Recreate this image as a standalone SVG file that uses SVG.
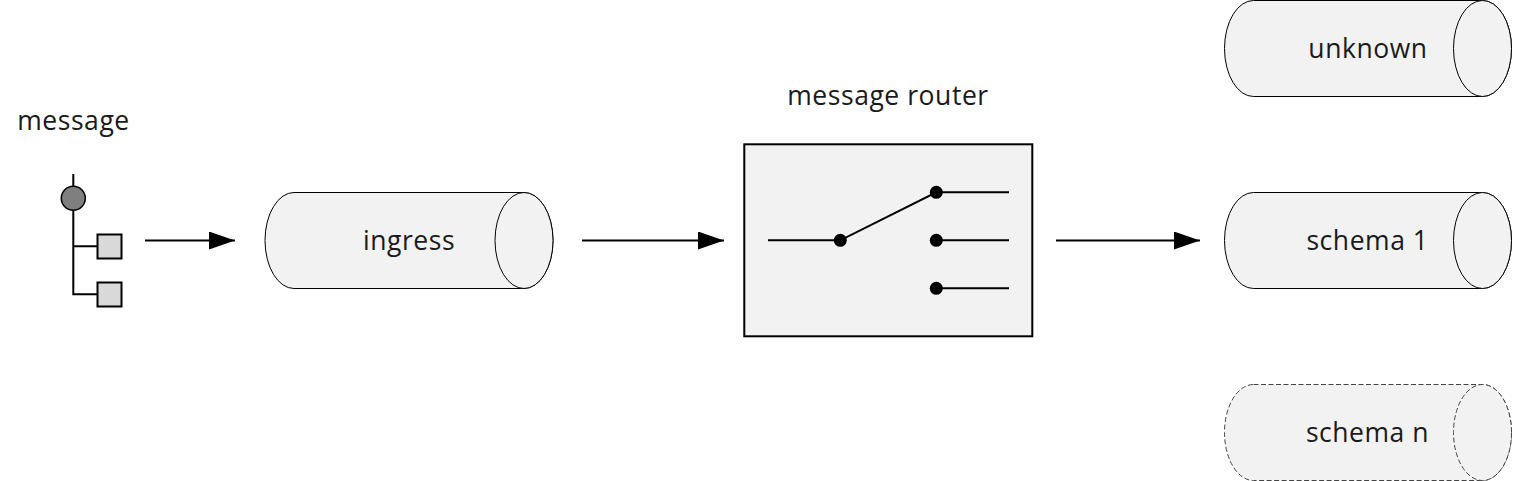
<svg xmlns="http://www.w3.org/2000/svg" width="1513" height="481" viewBox="0 0 1513 481">
<style>
.t{font-family:"Open Sans","Noto Sans",sans-serif;font-size:26.500px;letter-spacing:.55px;fill:#1a1a1a;text-anchor:middle}
.c{fill:#f2f2f2;stroke:#000;stroke-width:1}
.d{stroke-dasharray:5 2.500;stroke:#444}
.l{fill:none;stroke:#000;stroke-width:2}
.k{fill:#000}
.s{fill:#d9d9d9;stroke:#000;stroke-width:2}
</style>
<defs>
<marker id="a" markerWidth="26" markerHeight="18" refX="26" refY="9" orient="auto" markerUnits="userSpaceOnUse"><path d="M0 0L26 9L0 18Z" fill="#000"/></marker>
</defs>
<rect width="1513" height="481" fill="#fff"/>
<g id="message">
<text class="t" x="73.500" y="130">message</text>
<path class="l" d="M73.300 174V294.300H97M73.300 246.300H97"/>
<circle cx="73.300" cy="198.300" r="12" fill="#7f7f7f" stroke="#000" stroke-width="1.500"/>
<rect class="s" x="97.500" y="234.500" width="24" height="24"/>
<rect class="s" x="97.500" y="282.500" width="24" height="24"/>
</g>
<g id="ingress">
<path class="c" d="M294 192.500H524A29 48 0 0 1 524 288.500H294A29 48 0 0 1 294 192.500Z"/>
<ellipse class="c" cx="524" cy="240.500" rx="29" ry="48"/>
<text class="t" x="409" y="250">ingress</text>
</g>
<g id="router">
<text class="t" x="888" y="105">message router</text>
<rect x="744.300" y="144.300" width="288" height="192" fill="#f2f2f2" stroke="#000" stroke-width="2"/>
<path class="l" d="M768 240.300H840.300L936.300 192.300H1009M936.300 240.300H1009M936.300 288.300H1009"/>
<circle class="k" cx="840.300" cy="240.300" r="6.500"/>
<circle class="k" cx="936.300" cy="192.300" r="6.500"/>
<circle class="k" cx="936.300" cy="240.300" r="6.500"/>
<circle class="k" cx="936.300" cy="288.300" r="6.500"/>
</g>
<g id="unknown">
<path class="c" d="M1253.500 .5H1482.500A29 48 0 0 1 1482.500 96.500H1253.500A29 48 0 0 1 1253.500 .5Z"/>
<ellipse class="c" cx="1482.500" cy="48.500" rx="29" ry="48"/>
<text class="t" x="1368" y="58">unknown</text>
</g>
<g id="schema1">
<path class="c" d="M1253.500 192.500H1482.500A29 48 0 0 1 1482.500 288.500H1253.500A29 48 0 0 1 1253.500 192.500Z"/>
<ellipse class="c" cx="1482.500" cy="240.500" rx="29" ry="48"/>
<text class="t" x="1367.500" y="250">schema 1</text>
</g>
<g id="scheman">
<path class="c d" d="M1253.500 384.500H1482.500A29 48 0 0 1 1482.500 480.500H1253.500A29 48 0 0 1 1253.500 384.500Z"/>
<ellipse class="c d" cx="1482.500" cy="432.500" rx="29" ry="48"/>
<text class="t" x="1367.500" y="442">schema n</text>
</g>
<g id="connectors">
<line class="l" x1="145" y1="240.500" x2="235" y2="240.500" marker-end="url(#a)"/>
<line class="l" x1="582" y1="240.500" x2="724" y2="240.500" marker-end="url(#a)"/>
<line class="l" x1="1056" y1="240.500" x2="1200" y2="240.500" marker-end="url(#a)"/>
</g>
</svg>
